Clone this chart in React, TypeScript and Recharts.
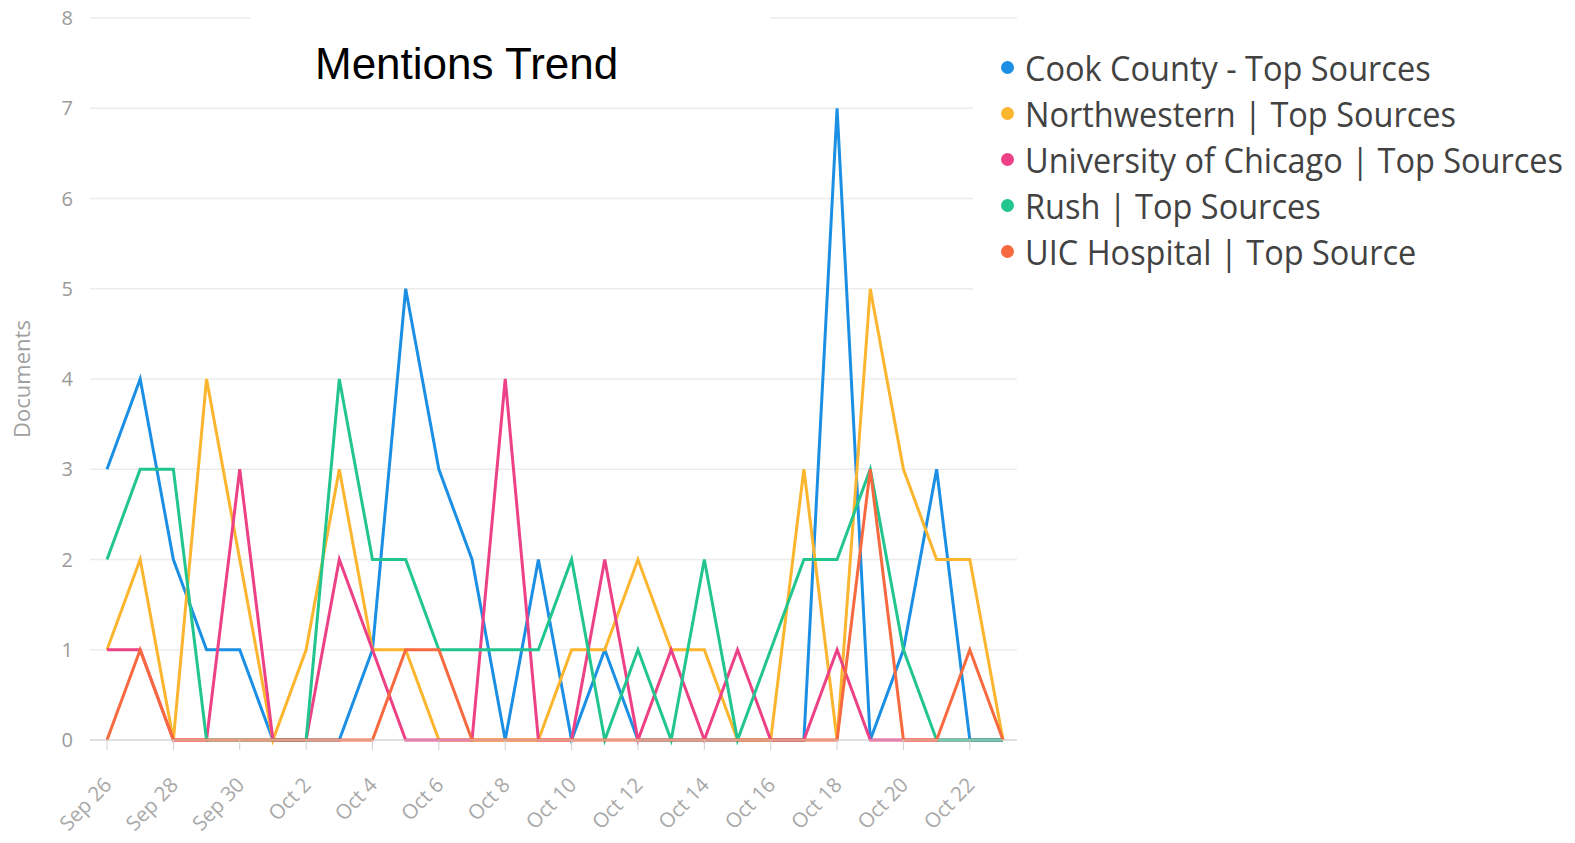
import React from "react";
import {
  LineChart,
  Line,
  XAxis,
  YAxis,
  CartesianGrid,
  Legend,
} from "recharts";

const dates = [
  "Sep 26", "Sep 27", "Sep 28", "Sep 29", "Sep 30", "Oct 1", "Oct 2",
  "Oct 3", "Oct 4", "Oct 5", "Oct 6", "Oct 7", "Oct 8", "Oct 9",
  "Oct 10", "Oct 11", "Oct 12", "Oct 13", "Oct 14", "Oct 15", "Oct 16",
  "Oct 17", "Oct 18", "Oct 19", "Oct 20", "Oct 21", "Oct 22", "Oct 23",
];

const cookCounty = [3, 4, 2, 1, 1, 0, 0, 0, 1, 5, 3, 2, 0, 2, 0, 1, 0, 0, 0, 0, 0, 0, 7, 0, 1, 3, 0, 0];
const northwestern = [1, 2, 0, 4, 2, 0, 1, 3, 1, 1, 0, 0, 0, 0, 1, 1, 2, 1, 1, 0, 0, 3, 0, 5, 3, 2, 2, 0];
const uchicago = [1, 1, 0, 0, 3, 0, 0, 2, 1, 0, 0, 0, 4, 0, 0, 2, 0, 1, 0, 1, 0, 0, 1, 0, 0, 0, 0, 0];
const rush = [2, 3, 3, 0, 0, 0, 0, 4, 2, 2, 1, 1, 1, 1, 2, 0, 1, 0, 2, 0, 1, 2, 2, 3, 1, 0, 0, 0];
const uic = [0, 1, 0, 0, 0, 0, 0, 0, 0, 1, 1, 0, 0, 0, 0, 0, 0, 0, 0, 0, 0, 0, 0, 3, 0, 0, 1, 0];

const yTicks = [0, 1, 2, 3, 4, 5, 6, 7, 8];

const series = [
  { key: "cook", name: "Cook County - Top Sources", values: cookCounty, color: "#1b8fe3" },
  { key: "nw", name: "Northwestern | Top Sources", values: northwestern, color: "#fbb52e" },
  { key: "uc", name: "University of Chicago | Top Sources", values: uchicago, color: "#ec4187" },
  { key: "rush", name: "Rush | Top Sources", values: rush, color: "#22c58d" },
  { key: "uic", name: "UIC Hospital | Top Source", values: uic, color: "#f7693f" },
];

const data = dates.map((d, i) => {
  const row: Record<string, string | number> = { date: d };
  series.forEach((s) => {
    row[s.key] = s.values[i];
  });
  return row;
});

const FONT = "'Open Sans', 'Noto Sans', sans-serif";

function XTick(props: any) {
  const { x, y, payload } = props;
  return (
    <g transform={`translate(${x},${y})`}>
      <text
        x={6}
        y={34}
        textAnchor="end"
        transform="rotate(-46, 6, 34)"
        fill="#a8a8a8"
        fontSize={20.5}
        fontFamily={FONT}
      >
        {payload.value}
      </text>
    </g>
  );
}

function YTick(props: any) {
  const { y, payload } = props;
  return (
    <text x={73} y={y} dy={7} textAnchor="end" fill="#9a9a9a" fontSize={20} fontFamily={FONT}>
      {payload.value}
    </text>
  );
}

function LegendBox() {
  return (
    <div style={{ background: "#fff", padding: "14px 0 18px 24px", fontFamily: FONT, textAlign: "left" }}>
      {series.map((s) => (
        <div key={s.key} style={{ display: "flex", alignItems: "center", height: 46 }}>
          <span
            style={{
              width: 13,
              height: 13,
              borderRadius: "50%",
              background: s.color,
              display: "inline-block",
              marginLeft: 4,
              marginRight: 11,
              flexShrink: 0,
            }}
          />
          <span
            style={{
              fontSize: 35.5,
              color: "#424242",
              whiteSpace: "nowrap",
              display: "inline-block",
              transform: "scaleX(0.915)",
              transformOrigin: "left center",
            }}
          >
            {s.name}
          </span>
        </div>
      ))}
    </div>
  );
}

export default function App() {
  return (
    <div style={{ position: "absolute", left: 0, top: 0, width: 1575, height: 843, background: "#fff" }}>
      <LineChart
        width={1575}
        height={843}
        data={data}
        margin={{ top: 18, right: 558, bottom: 0, left: 0 }}
      >
        <CartesianGrid vertical={false} stroke="#ececec" strokeWidth={1.5} />
        <XAxis
          dataKey="date"
          interval={1}
          padding={{ left: 17, right: 14 }}
          height={103}
          axisLine={{ stroke: "#cfcfcf" }}
          tickLine={{ stroke: "#cfcfcf" }}
          tickSize={10}
          tick={<XTick />}
        />
        <YAxis
          width={90}
          domain={[0, 8]}
          ticks={yTicks}
          axisLine={false}
          tickLine={false}
          tick={<YTick />}
          label={{
            value: "Documents",
            angle: -90,
            position: "center",
            dx: -23,
            style: { fill: "#a0a0a0", fontSize: 22, fontFamily: FONT },
          }}
        />
        <Legend
          verticalAlign="middle"
          align="center"
          layout="vertical"
          wrapperStyle={{ position: "absolute", left: 973, top: 30, width: 602 }}
          content={() => <LegendBox />}
        />
        {series.map((s) => (
          <Line
            key={s.key}
            type="linear"
            dataKey={s.key}
            name={s.name}
            stroke={s.color}
            strokeWidth={3}
            dot={false}
            activeDot={false}
            isAnimationActive={false}
          />
        ))}
      </LineChart>
      <div
        style={{
          position: "absolute",
          left: 250,
          top: 8,
          width: 520,
          height: 88,
          background: "#fff",
          display: "flex",
          justifyContent: "flex-start",
          alignItems: "center",
          fontFamily: "'Liberation Sans', Arial, sans-serif",
          fontSize: 44,
          color: "#000",
          paddingTop: 24,
          paddingLeft: 65,
          boxSizing: "border-box",
        }}
      >
        Mentions Trend
      </div>
    </div>
  );
}
